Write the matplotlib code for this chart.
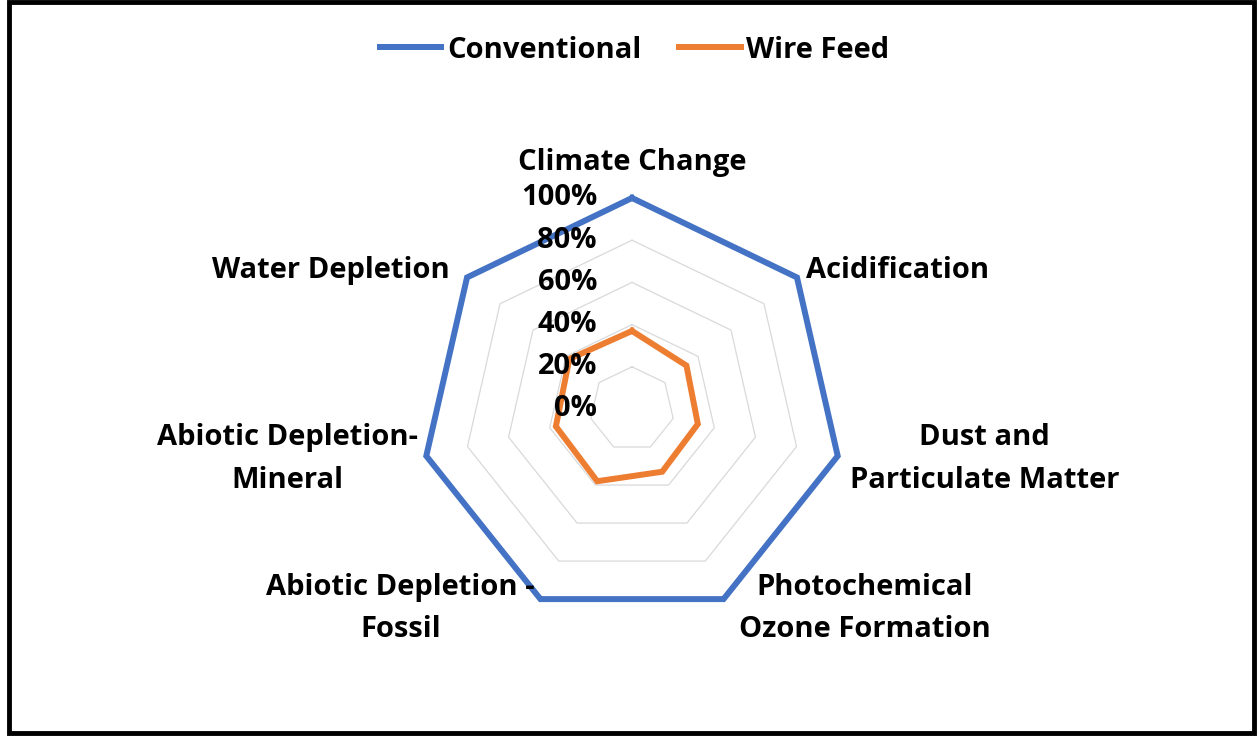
import numpy as np
import matplotlib
matplotlib.use('Agg')
import matplotlib.pyplot as plt
import matplotlib.transforms as mtransforms
from matplotlib.lines import Line2D
from matplotlib.patches import Rectangle

# impact categories, clockwise from the top
categories = ['Climate Change', 'Acidification', 'Dust and\nParticulate Matter',
              'Photochemical\nOzone Formation', 'Abiotic Depletion -\nFossil',
              'Abiotic Depletion-\nMineral', 'Water Depletion']
conventional = [1.00, 1.00, 1.00, 1.00, 1.00, 1.00, 1.00]
wire_feed = [0.37, 0.33, 0.32, 0.33, 0.38, 0.37, 0.38]
ring_levels = [0.0, 0.2, 0.4, 0.6, 0.8, 1.0]
ring_labels = ['0%', '20%', '40%', '60%', '80%', '100%']

blue = '#4472C4'
orange = '#ED7D31'
grid_col = '#D9D9D9'

plt.rcParams['font.family'] = ['Open Sans', 'DejaVu Sans']
plt.rcParams['font.weight'] = 'bold'
fs = 21

W, H = 1257, 736
fig = plt.figure(figsize=(W / 100, H / 100), dpi=100)

# polar axes centred on the chart, radius of the 100% ring
cx, cy, rad = 632, 409, 211
ax = fig.add_axes([(cx - rad) / W, 1 - (cy + rad) / H, 2 * rad / W, 2 * rad / H],
                  projection='polar')
ax.set_theta_zero_location('N')
ax.set_theta_direction(-1)
ax.set_ylim(0, 1.0)
ax.axis('off')

n = len(categories)
theta = np.linspace(0, 2 * np.pi, n, endpoint=False)
theta_closed = np.append(theta, theta[0])

def closed(vals):
    return np.append(vals, vals[0])

# polygon gridlines
for lev in ring_levels[1:]:
    ax.plot(theta_closed, closed([lev] * n), color=grid_col, lw=0.9, clip_on=False, zorder=1)

ax.plot(theta_closed, closed(conventional), color=blue, lw=4.3, clip_on=False,
        solid_joinstyle='miter', zorder=3)
ax.plot(theta_closed, closed(wire_feed), color=orange, lw=4.3, clip_on=False,
        solid_joinstyle='miter', zorder=3)

# value axis labels, left of the vertical spoke
lab_tr = mtransforms.offset_copy(ax.transData, fig=fig, x=-35, y=0, units='dots')
for lev, lab in zip(ring_levels, ring_labels):
    ax.text(0, lev, lab, transform=lab_tr, ha='right', va='center', fontsize=fs,
            fontweight='bold', zorder=4)

# category labels, offset from each outer vertex (pixels)
offsets = [(0, 35, 'center'), (9, 7, 'left'), (147, -3, 'center'), (141, -9, 'center'),
           (-140, -9, 'center'), (-139, -3, 'center'), (-17, 7, 'right')]
for t, lab, (dx, dy, ha) in zip(theta, categories, offsets):
    tr = mtransforms.offset_copy(ax.transData, fig=fig, x=dx, y=dy, units='dots')
    ax.text(t, 1.0, lab, transform=tr, ha=ha, va='center', multialignment='center',
            fontsize=fs, fontweight='bold', linespacing=1.6, zorder=4)

handles = [Line2D([], [], color=blue, lw=4.3), Line2D([], [], color=orange, lw=4.3)]
fig.legend(handles, ['Conventional', 'Wire Feed'], loc='center', bbox_to_anchor=(0.505, 0.932),
           ncol=2, frameon=False, fontsize=fs, handlelength=2.1, handletextpad=0.2,
           columnspacing=1.3)

# black frame round the figure
fig.patches.append(Rectangle((9 / W, 3.5 / H), (1254 - 9) / W, (734 - 3.5) / H,
                             transform=fig.transFigure, fill=False, edgecolor='black',
                             lw=3.5, zorder=10))

fig.savefig('out.png', dpi=100, facecolor='white')
